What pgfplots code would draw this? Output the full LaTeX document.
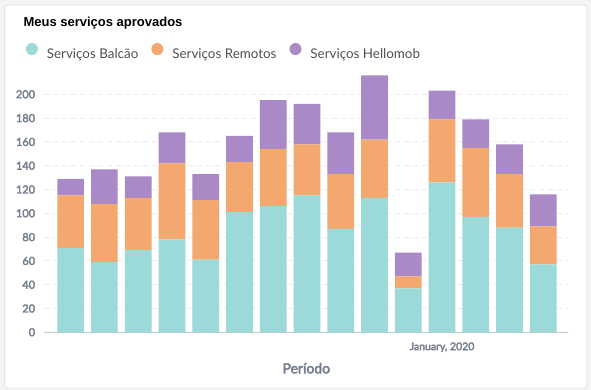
\documentclass[border=0pt]{standalone}
\usepackage{fontspec}
\usepackage{pgfplots}
\pgfplotsset{compat=1.18}
\setmainfont{Lato}
\newfontfamily\labelfont{Lato}[FakeBold=3]
\newfontfamily\titlefont{Liberation Sans}
\definecolor{teal1}{RGB}{155,218,217}
\definecolor{orange1}{RGB}{243,168,111}
\definecolor{purple1}{RGB}{170,138,198}
\definecolor{axisgray}{RGB}{196,202,210}
\definecolor{labelgray}{RGB}{115,125,140}
\definecolor{gridgray}{RGB}{234,236,240}
\definecolor{legendtext}{RGB}{80,80,86}
\definecolor{bggray}{RGB}{244,245,247}
\definecolor{cardborder}{RGB}{226,228,232}
\begin{document}
\begin{tikzpicture}
\fill[bggray] (0pt,0pt) rectangle (591pt,390pt);
\fill[white, draw=cardborder, line width=0.8pt, rounded corners=3pt] (4.5pt,2pt) rectangle (587pt,385pt);
\node[anchor=base west, inner sep=0pt, font=\titlefont\bfseries\fontsize{13}{15}\selectfont, text={RGB,255:red,17;green,17;blue,17}] at (23.3pt,363.3pt) {Meus serviços aprovados};
\begin{axis}[
  at={(44.3pt,57.7pt)}, anchor=south west,
  scale only axis, width=524pt, height=261.8pt,
  xmin=-0.78, xmax=14.74, ymin=0, ymax=220,
  ybar stacked, bar width=26.7pt,
  axis line style={draw=none},
  tick style={draw=none},
  ytick={0,20,...,200},
  xtick={11}, xticklabels={January{,} 2020},
  ymajorgrids, grid style={gridgray, line width=1pt, dash pattern=on 5pt off 4pt},
  /pgf/number format/assume math mode=true,
  yticklabel style={font=\labelfont\fontsize{11}{13}\selectfont, text=labelgray, anchor=east, inner sep=0pt, xshift=-9pt},
  xticklabel style={font=\labelfont\fontsize{10.5}{12}\selectfont, text=labelgray, anchor=north, inner sep=0pt, yshift=-10pt},
  xlabel={Período},
  xlabel style={at={(axis description cs:0.5,0)}, anchor=north, inner sep=0pt, yshift=-30.5pt, font=\labelfont\fontsize{14}{16}\selectfont, text=labelgray},
  legend columns=-1,
  legend style={at={(axis description cs:-0.0355,1.1057)}, anchor=north west, draw=none, fill=none, inner sep=0pt,
    font=\fontsize{13.4}{16}\selectfont, text=legendtext,
    nodes={inner sep=0pt},
    /tikz/every odd column/.style={column sep=9pt},
    /tikz/every even column/.style={column sep=13pt}},
]
\addplot[fill=teal1, draw=none, legend image code/.code={\fill (6pt,5pt) circle (6pt);}] coordinates {
(0,71) (1,59) (2,69) (3,78) (4,61) (5,101) (6,106) (7,115) (8,87) (9,113) (10,37) (11,126) (12,97) (13,88) (14,57)};
\addlegendentry{Serviços Balcão}
\addplot[fill=orange1, draw=none, legend image code/.code={\fill (6pt,5pt) circle (6pt);}] coordinates {
(0,44) (1,49) (2,44) (3,64) (4,50) (5,42) (6,48) (7,43) (8,46) (9,49) (10,10) (11,53) (12,58) (13,45) (14,32)};
\addlegendentry{Serviços Remotos}
\addplot[fill=purple1, draw=none, legend image code/.code={\fill (6pt,5pt) circle (6pt);}] coordinates {
(0,14) (1,29) (2,18) (3,26) (4,22) (5,22) (6,41) (7,34) (8,35) (9,54) (10,20) (11,24) (12,24) (13,25) (14,27)};
\addlegendentry{Serviços Hellomob}
\draw[axisgray, line width=1pt] (rel axis cs:0,0) ++(0,-5pt) -- (rel axis cs:0,0) -- (rel axis cs:1,0) -- ++(0,-5pt);
\end{axis}
\end{tikzpicture}
\end{document}
